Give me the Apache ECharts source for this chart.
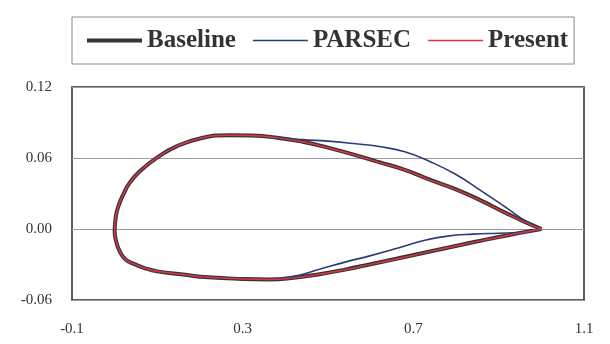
<!DOCTYPE html>
<html>
<head>
<meta charset="utf-8">
<script src="https://cdn.jsdelivr.net/npm/echarts@6/dist/echarts.min.js"></script>
<style>
  html, body { margin: 0; padding: 0; background: #ffffff; }
  #chart { width: 610px; height: 344px; }
</style>
</head>
<body>
<div id="chart"></div>
<script>
// Chord stations along the upper surface (trailing edge -> leading edge)
const upperX = [1.0, 0.96, 0.92, 0.86, 0.8, 0.74, 0.68, 0.62, 0.56, 0.5, 0.44, 0.38, 0.32, 0.27, 0.2, 0.145, 0.1, 0.06, 0.035, 0.02, 0.01, 0.003, 0.0];
// Chord stations along the lower surface (leading edge -> trailing edge)
const lowerX = [0.004, 0.012, 0.025, 0.045, 0.07, 0.1, 0.16, 0.22, 0.3, 0.36, 0.42, 0.48, 0.54, 0.6, 0.66, 0.72, 0.78, 0.84, 0.9, 0.95, 1.0];

// Surface ordinates y/c
const baselineUpper = [0, 0.0062, 0.013, 0.0238, 0.0335, 0.0415, 0.050, 0.0565, 0.0628, 0.0688, 0.0738, 0.0772, 0.079, 0.0793, 0.0765, 0.0698, 0.0605, 0.049, 0.039, 0.029, 0.0205, 0.0112, -0.002];
const baselineLower = [-0.011, -0.019, -0.0255, -0.0295, -0.033, -0.0358, -0.0385, -0.0408, -0.0422, -0.0426, -0.0412, -0.0382, -0.0343, -0.0298, -0.0252, -0.0205, -0.0158, -0.0112, -0.0068, -0.0033, 0];

const parsecUpper = [0, 0.0075, 0.0175, 0.032, 0.046, 0.0568, 0.0652, 0.0697, 0.0722, 0.0743, 0.0755, 0.0775, 0.079, 0.0793, 0.0765, 0.0698, 0.0605, 0.049, 0.039, 0.029, 0.0205, 0.0112, -0.002];
const parsecLower = [-0.011, -0.019, -0.0255, -0.0295, -0.033, -0.0358, -0.0385, -0.0408, -0.0422, -0.0424, -0.0400, -0.0340, -0.0280, -0.0225, -0.0165, -0.0102, -0.0060, -0.0043, -0.0036, -0.0030, 0];

const presentUpper = [0, 0.0060, 0.0128, 0.0236, 0.0333, 0.0413, 0.0498, 0.0563, 0.0627, 0.0687, 0.0737, 0.0771, 0.079, 0.0793, 0.0765, 0.0698, 0.0605, 0.049, 0.039, 0.029, 0.0205, 0.0112, -0.002];
const presentLower = [-0.011, -0.019, -0.0255, -0.0295, -0.033, -0.0358, -0.0385, -0.0408, -0.0422, -0.0426, -0.0413, -0.0383, -0.0344, -0.0299, -0.0253, -0.0206, -0.0159, -0.0113, -0.0069, -0.0034, 0];

const seriesNames = ['Baseline', 'PARSEC', 'Present'];
const xTicks = { min: -0.1, max: 1.1, step: 0.4 };
const yTicks = { min: -0.06, max: 0.12, step: 0.06 };

// Closed contour: upper surface TE->LE, then lower surface LE->TE
function contour(upper, lower) {
  const pts = upperX.map((x, i) => [x, upper[i]]);
  return pts.concat(lowerX.map((x, i) => [x, lower[i]]));
}

// Legend keys drawn as plain strokes of the series' line weight
const strokeIcon = h => 'path://M0,0L110,0L110,' + h + 'L0,' + h + 'Z';

const serif = '"Liberation Serif", "Times New Roman", serif';
const chart = echarts.init(document.getElementById('chart'), null, { renderer: 'canvas' });

chart.setOption({
  animation: false,
  backgroundColor: '#ffffff',
  legend: {
    data: [
      { name: seriesNames[0], icon: strokeIcon(8) },
      { name: seriesNames[1], icon: strokeIcon(3.4) },
      { name: seriesNames[2], icon: strokeIcon(3.4) }
    ],
    left: 72,
    top: 17,
    padding: [11, 6, 11, 15],
    itemGap: 17,
    itemWidth: 55,
    itemHeight: 14,
    borderColor: '#8a8a8a',
    borderWidth: 1,
    textStyle: { fontFamily: serif, fontWeight: 'bold', fontSize: 25, color: '#333333' }
  },
  grid: {
    left: 72, right: 26, top: 87, bottom: 44,
    show: true, borderColor: '#2a2a2a', borderWidth: 1.5,
    backgroundColor: 'transparent'
  },
  xAxis: {
    type: 'value',
    min: xTicks.min, max: xTicks.max, interval: xTicks.step,
    axisLine: { show: false },
    axisTick: { show: false },
    splitLine: { show: false },
    axisLabel: {
      margin: 22,
      fontFamily: serif, fontSize: 15, color: '#333333',
      formatter: v => v.toFixed(1)
    }
  },
  yAxis: {
    type: 'value',
    min: yTicks.min, max: yTicks.max, interval: yTicks.step,
    axisLine: { show: false },
    axisTick: { show: false },
    splitLine: { show: true, lineStyle: { color: '#9c9c9c', width: 1 } },
    axisLabel: {
      margin: 20,
      fontFamily: serif, fontSize: 15, color: '#333333',
      formatter: v => v.toFixed(2)
    }
  },
  series: [
    {
      name: 'Baseline', type: 'line', symbol: 'none', smooth: 0.5,
      data: contour(baselineUpper, baselineLower),
      lineStyle: { color: '#353535', width: 4 },
      itemStyle: { color: '#353535' }, z: 2
    },
    {
      name: 'PARSEC', type: 'line', symbol: 'none', smooth: 0.5,
      data: contour(parsecUpper, parsecLower),
      lineStyle: { color: '#2c3a78', width: 1.6 },
      itemStyle: { color: '#2c3a78' }, z: 3
    },
    {
      name: 'Present', type: 'line', symbol: 'none', smooth: 0.5,
      data: contour(presentUpper, presentLower),
      lineStyle: { color: '#e0343f', width: 1.5 },
      itemStyle: { color: '#e0343f' }, z: 4
    }
  ]
});
</script>
</body>
</html>
